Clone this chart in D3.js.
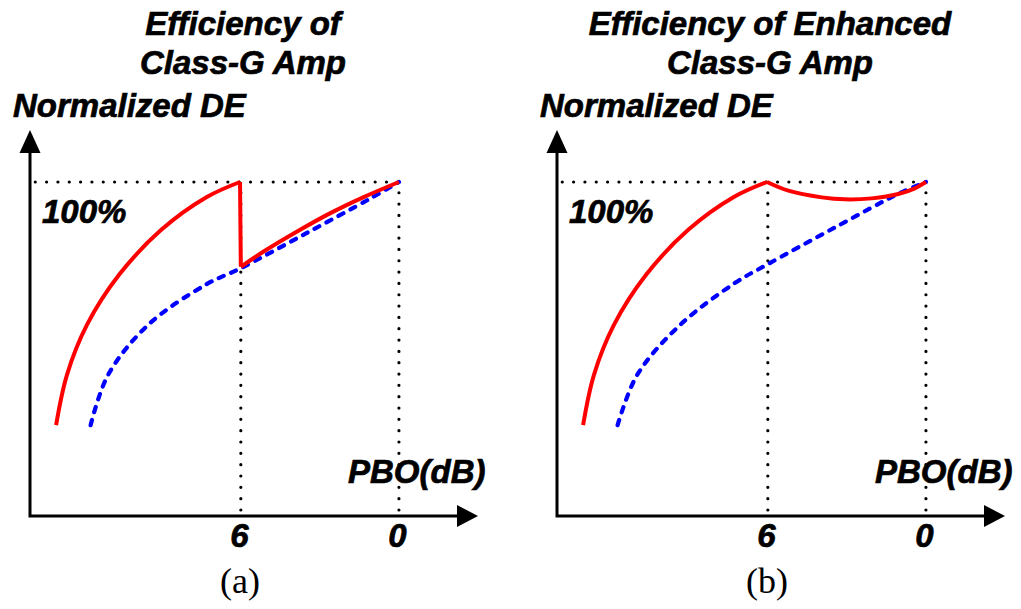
<!DOCTYPE html>
<html>
<head>
<meta charset="utf-8">
<script src="https://cdn.jsdelivr.net/npm/d3@7"></script>
<style>
body { margin: 0; background: #fff; }
svg text { font-family: "Liberation Sans", Arial, sans-serif; font-weight: bold; font-style: italic; fill: #000; stroke: #000; stroke-width: 0.7px; }
svg text.caption { font-family: "Liberation Serif", "Times New Roman", serif; font-weight: normal; font-style: normal; stroke: none; }
</style>
</head>
<body>
<div id="chart"></div>
<script>
// x = PBO (dB), y = normalized drain efficiency (%)
var xTicks = [6, 0];
var fullDE = 100;

// red: class-G low supply branch (same in both panels)
var redRise = [[13.01, 27.2], [12.6, 42.2], [11.84, 57.2], [10.62, 72.2], [9.03, 85.6], [7.29, 95.5], [6.03, 100]];
// (a) class-G: drop at 6 dB then high supply branch
var redDropA = [[6.03, 100], [6.0, 74.6]];
var redRightA = [[6.0, 74.6], [5.15, 79.1], [3.88, 85.1], [2.62, 90.6], [1.36, 95.4], [0, 100]];
var blueA = [[11.7, 27.2], [11.04, 42.2], [9.52, 57.2], [7.32, 69.3], [6.0, 74.2], [3.53, 84.6], [1.1, 95.0], [0, 100]];
// (b) enhanced class-G
var redRightB = [[6.03, 100], [5.22, 97.4], [3.95, 95.4], [3.07, 94.8], [2.06, 95.1], [1.05, 96.4], [0.42, 98.1], [0, 100]];
var blueB = [[11.7, 27.2], [10.96, 42.2], [9.33, 57.2], [7.24, 69.8], [6.0, 75.4], [3.45, 86.4], [0.99, 96.7], [0, 100]];

var panels = [
  {title: ["Efficiency of", "Class-G Amp"], caption: "(a)", left: 30, red: [redRise, redDropA, redRightA], blue: blueA},
  {title: ["Efficiency of Enhanced", "Class-G Amp"], caption: "(b)", left: 557, red: [redRise, redRightB], blue: blueB}
];

var width = 1021, height = 609;

var svg = d3.select("#chart").append("svg")
    .attr("width", width)
    .attr("height", height);

// x axis: 14 dB at the y axis, arrow tip at -3 dB
var x = d3.scaleLinear()
    .domain([14, -3])
    .range([0, 448]);
var y = d3.scaleLinear()
    .domain([0, 100])
    .range([516, 182]);

var line = d3.line()
    .x(function(d) { return x(d[0]); })
    .y(function(d) { return y(d[1]); })
    .curve(d3.curveCatmullRom.alpha(0.5));

panels.forEach(function(p) {
  var g = svg.append("g").attr("transform", "translate(" + p.left + ",0)");

  // titles
  g.selectAll(".title")
    .data(p.title)
    .enter()
    .append("text")
    .attr("class", "title")
    .attr("text-anchor", "middle")
    .attr("x", 213)
    .attr("y", function(d, i) { return 35 + i * 39; })
    .attr("font-size", 33)
    .text(function(d) { return d; });

  g.append("text")
    .attr("x", -17)
    .attr("y", 117)
    .attr("font-size", 33)
    .text("Normalized DE");

  // dotted guide lines
  g.append("line")
    .attr("x1", x(13.8)).attr("x2", x(0))
    .attr("y1", y(fullDE)).attr("y2", y(fullDE))
    .attr("stroke", "#000")
    .attr("stroke-width", 3.2)
    .attr("stroke-linecap", "round")
    .attr("stroke-dasharray", "0,11.33");
  g.selectAll(".vguide")
    .data(xTicks)
    .enter()
    .append("line")
    .attr("class", "vguide")
    .attr("x1", function(d) { return x(d); })
    .attr("x2", function(d) { return x(d); })
    .attr("y1", y(0) - 6)
    .attr("y2", y(fullDE))
    .attr("stroke", "#000")
    .attr("stroke-width", 3.2)
    .attr("stroke-linecap", "round")
    .attr("stroke-dasharray", "0,11.33");

  // x axis with tick labels only
  var xAxis = g.append("g")
    .attr("transform", "translate(0," + y(0) + ")")
    .call(d3.axisBottom(x).tickValues(xTicks).tickSize(0).tickSizeOuter(0).tickPadding(8).tickFormat(d3.format("d")));
  xAxis.select(".domain").remove();
  xAxis.selectAll("text")
    .attr("font-size", 33)
    .attr("font-family", null)
    .attr("dx", -2);

  // axis lines with arrow heads
  g.append("path")
    .attr("d", "M" + x(14) + "," + (y(0) + 1.5) + "V150 M" + (x(14) - 1.5) + "," + y(0) + "H" + (x(-3) - 12))
    .attr("stroke", "#000")
    .attr("stroke-width", 3)
    .attr("fill", "none");
  g.append("path")
    .attr("d", "M" + x(14) + ",130L" + (x(14) - 10.5) + ",153L" + (x(14) + 10.5) + ",153Z")
    .attr("fill", "#000");
  g.append("path")
    .attr("d", "M" + x(-3) + "," + y(0) + "L" + (x(-3) - 21) + "," + (y(0) - 11) + "L" + (x(-3) - 21) + "," + (y(0) + 11) + "Z")
    .attr("fill", "#000");

  g.append("text")
    .attr("x", 12)
    .attr("y", 223)
    .attr("font-size", 33)
    .text("100%");

  g.append("text")
    .attr("x", 318)
    .attr("y", 483)
    .attr("font-size", 33)
    .text("PBO(dB)");

  // curves
  g.append("path")
    .attr("d", line(p.blue))
    .attr("fill", "none")
    .attr("stroke", "#0000ff")
    .attr("stroke-width", 4.2)
    .attr("stroke-linecap", "round")
    .attr("stroke-dasharray", "5.5,8");

  g.selectAll(".red")
    .data(p.red)
    .enter()
    .append("path")
    .attr("class", "red")
    .attr("d", function(d) { return line(d); })
    .attr("fill", "none")
    .attr("stroke", "#ff0000")
    .attr("stroke-width", 4)
    .attr("stroke-linejoin", "round");

  g.append("text")
    .attr("class", "caption")
    .attr("text-anchor", "middle")
    .attr("x", 210)
    .attr("y", 593)
    .attr("font-size", 36)
    .text(p.caption);
});
</script>
</body>
</html>
